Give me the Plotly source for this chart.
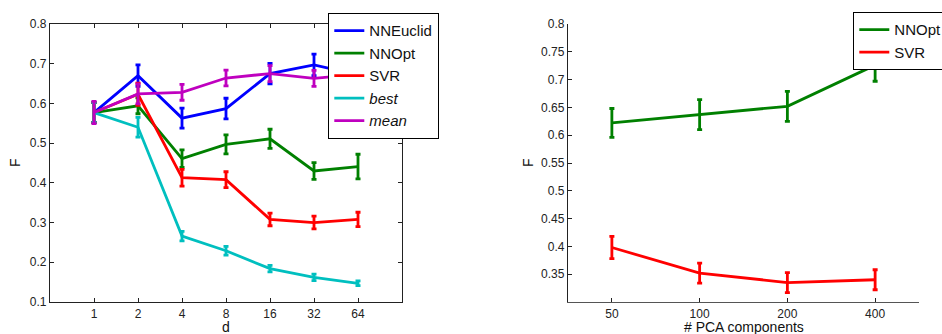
import plotly.graph_objects as go

# ---- Left chart data ----
d_labels = ["1", "2", "4", "8", "16", "32", "64"]
nneuclid = [0.577, 0.670, 0.563, 0.587, 0.675, 0.697, 0.672]
nneuclid_err = [0.025, 0.027, 0.025, 0.026, 0.026, 0.027, 0.025]
nnopt = [0.577, 0.594, 0.461, 0.497, 0.511, 0.430, 0.441]
nnopt_err = [0.025, 0.020, 0.022, 0.024, 0.024, 0.021, 0.031]
svr = [0.577, 0.623, 0.413, 0.408, 0.308, 0.300, 0.308]
svr_err = [0.025, 0.028, 0.021, 0.020, 0.016, 0.016, 0.018]
best = [0.577, 0.540, 0.266, 0.229, 0.184, 0.162, 0.147]
best_err = [0.025, 0.025, 0.012, 0.011, 0.008, 0.008, 0.006]
mean = [0.577, 0.624, 0.628, 0.664, 0.675, 0.663, 0.673]
mean_err = [0.028, 0.025, 0.020, 0.020, 0.020, 0.020, 0.020]

# ---- Right chart data ----
pca_labels = ["50", "100", "200", "400"]
pca_nnopt = [0.622, 0.637, 0.652, 0.726]
pca_nnopt_err = [0.026, 0.027, 0.027, 0.029]
pca_svr = [0.398, 0.352, 0.335, 0.340]
pca_svr_err = [0.020, 0.018, 0.018, 0.018]

BLUE, GREEN, RED, CYAN, MAGENTA = "#0000ff", "#008000", "#ff0000", "#00bfbf", "#bf00bf"
FONT = "Liberation Sans, Arial, Helvetica, sans-serif"
W, H = 942, 334

fig = go.Figure()

def add(x, y, err, name, color, xa, ya, legend):
    fig.add_trace(go.Scatter(
        x=x, y=y, name=name, mode="lines",
        line=dict(color=color, width=2.8),
        error_y=dict(type="data", array=err, visible=True, color=color,
                     thickness=2.8, width=2.5),
        xaxis=xa, yaxis=ya, legend=legend))

add(d_labels, nneuclid, nneuclid_err, "NNEuclid", BLUE, "x", "y", "legend")
add(d_labels, nnopt, nnopt_err, "NNOpt", GREEN, "x", "y", "legend")
add(d_labels, svr, svr_err, "SVR", RED, "x", "y", "legend")
add(d_labels, best, best_err, "<i>best</i>", CYAN, "x", "y", "legend")
add(d_labels, mean, mean_err, "<i>mean</i>", MAGENTA, "x", "y", "legend")

add(pca_labels, pca_nnopt, pca_nnopt_err, "NNOpt", GREEN, "x2", "y2", "legend2")
add(pca_labels, pca_svr, pca_svr_err, "SVR", RED, "x2", "y2", "legend2")

tickfont = dict(family=FONT, size=12, color="#222")
axis_common = dict(showgrid=False, zeroline=False, ticks="inside", ticklen=4,
                   tickcolor="#222", tickfont=tickfont, showline=True,
                   linewidth=1.3, automargin=False)

title_font = dict(family=FONT, size=14, color="#111")
annotations = [
    dict(text="d", xref="paper", yref="paper", x=(50 + 402) / 2 / W, y=0,
         xanchor="center", yanchor="bottom", yshift=-2, showarrow=False,
         font=title_font, borderpad=0),
    dict(text="# PCA components", xref="paper", yref="paper", x=(568 + 919) / 2 / W, y=0,
         xanchor="center", yanchor="bottom", yshift=-2, showarrow=False,
         font=title_font, borderpad=0),
    dict(text="F", xref="paper", yref="paper", x=15 / W, y=(1 - 163 / H),
         xanchor="center", yanchor="middle", textangle=-90, showarrow=False,
         font=title_font, borderpad=0),
    dict(text="F", xref="paper", yref="paper", x=528 / W, y=(1 - 163 / H),
         xanchor="center", yanchor="middle", textangle=-90, showarrow=False,
         font=title_font, borderpad=0),
]

fig.update_layout(
    width=W, height=H,
    margin=dict(l=0, r=0, t=0, b=0, autoexpand=False),
    plot_bgcolor="white", paper_bgcolor="white",
    font=dict(family=FONT, size=13, color="#111"),
    annotations=annotations,
    xaxis=dict(domain=[50/W, 402/W], type="category", range=[-1, 7],
               mirror="ticks", anchor="y", linecolor="#222", **axis_common),
    yaxis=dict(domain=[1-302/H, 1-24/H], range=[0.1, 0.8],
               tickvals=[0.1, 0.2, 0.3, 0.4, 0.5, 0.6, 0.7, 0.8],
               ticktext=["0.1", "0.2", "0.3", "0.4", "0.5", "0.6", "0.7", "0.8"],
               mirror="ticks", anchor="x", linecolor="#222", **axis_common),
    xaxis2=dict(domain=[568/W, 919/W], type="category", range=[-0.5, 3.5],
                anchor="y2", linecolor="#555", **axis_common),
    yaxis2=dict(domain=[1-302/H, 1-24/H], range=[0.3, 0.8],
                tickvals=[0.35, 0.4, 0.45, 0.5, 0.55, 0.6, 0.65, 0.7, 0.75, 0.8],
                ticktext=["0.35", "0.4", "0.45", "0.5", "0.55", "0.6", "0.65", "0.7", "0.75", "0.8"],
                anchor="x2", linecolor="#222", **axis_common),
    legend=dict(x=328/W, y=1-13/H, xanchor="left", yanchor="top",
                bgcolor="white", bordercolor="black", borderwidth=1.3,
                font=dict(family=FONT, size=15, color="#111"),
                itemwidth=30, tracegroupgap=0),
    legend2=dict(x=853/W, y=1-12/H, xanchor="left", yanchor="top",
                 bgcolor="white", bordercolor="black", borderwidth=1.3,
                 font=dict(family=FONT, size=15, color="#111"),
                 itemwidth=30, tracegroupgap=0),
)

fig.write_html(
    "out.html",
    config={"displayModeBar": False},
    post_script="document.body.style.margin='0';document.body.style.overflow='hidden';",
)
